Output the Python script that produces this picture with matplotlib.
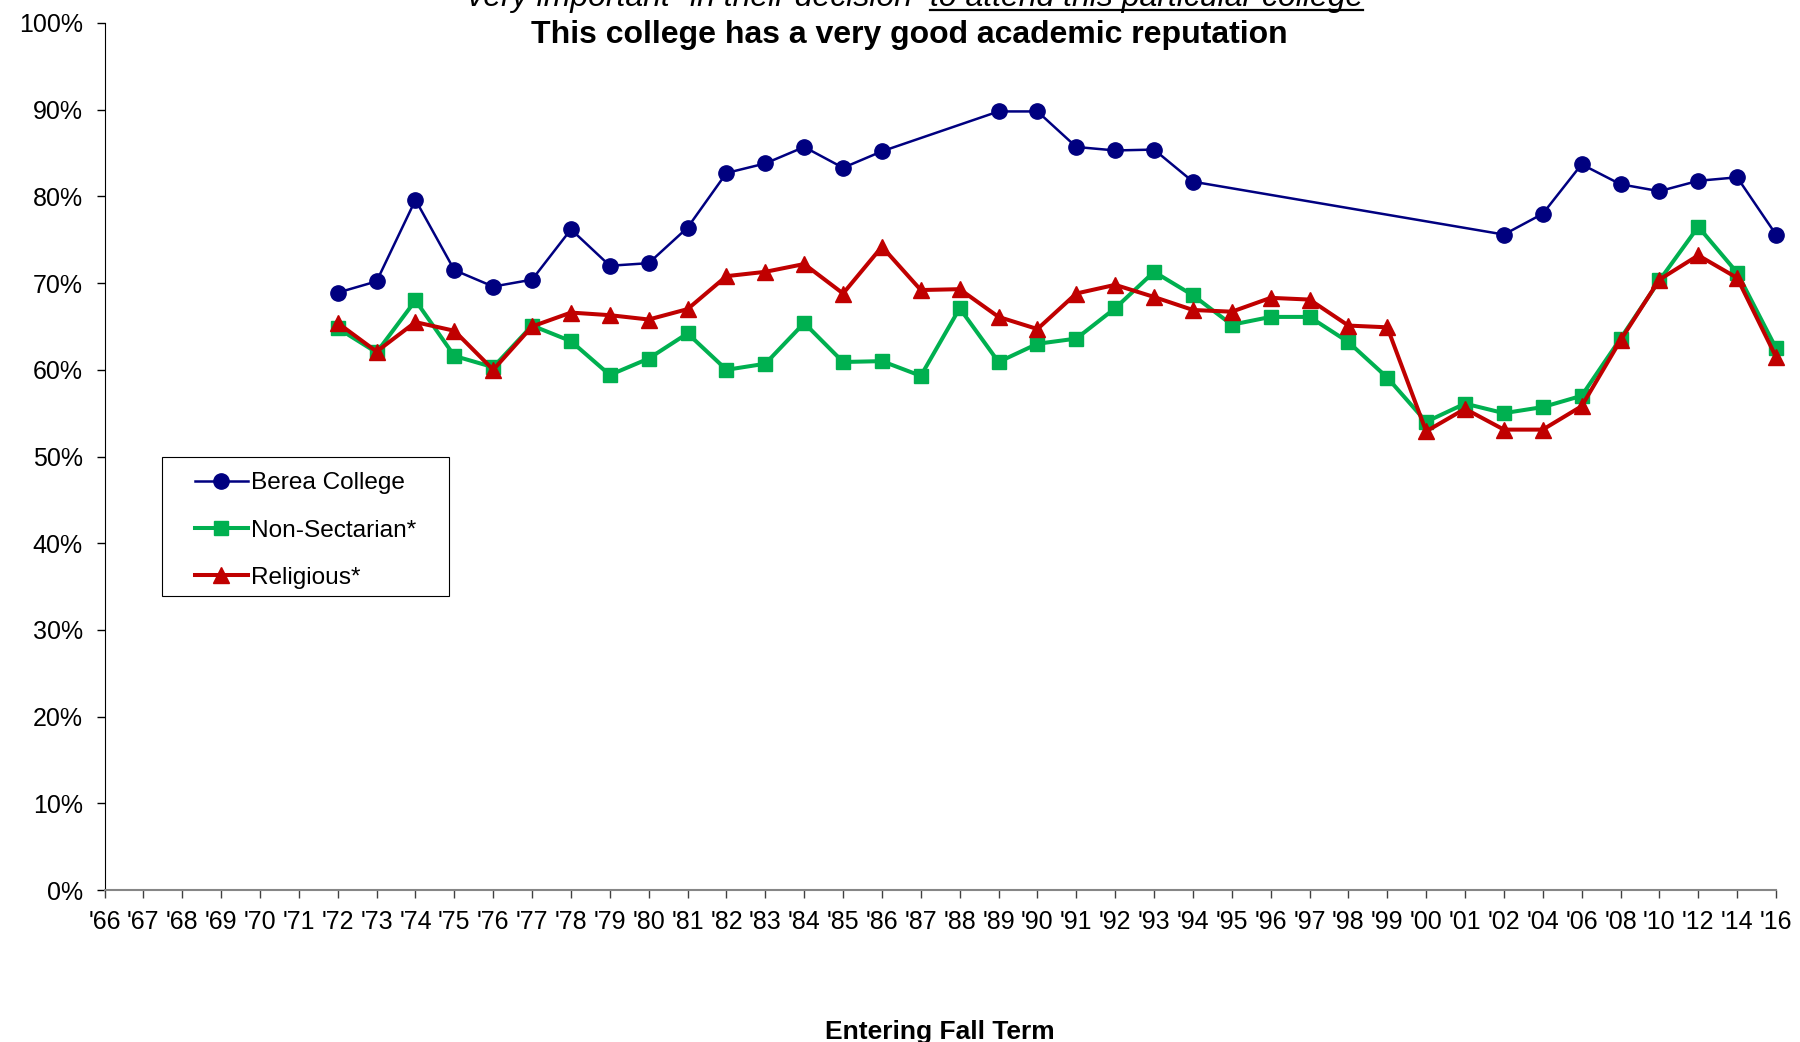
import matplotlib
matplotlib.use("Agg")
import matplotlib.pyplot as plt
from matplotlib.lines import Line2D
from matplotlib.patches import Rectangle

plt.rcParams["font.family"] = ["Liberation Sans", "DejaVu Sans"]

YEARS = ["'66", "'67", "'68", "'69", "'70", "'71", "'72", "'73", "'74", "'75",
         "'76", "'77", "'78", "'79", "'80", "'81", "'82", "'83", "'84", "'85",
         "'86", "'87", "'88", "'89", "'90", "'91", "'92", "'93", "'94", "'95",
         "'96", "'97", "'98", "'99", "'00", "'01", "'02", "'04", "'06", "'08",
         "'10", "'12", "'14", "'16"]

# values in percent, None = no survey data that year
BEREA = [None, None, None, None, None, None,
         68.9, 70.2, 79.6, 71.5, 69.6, 70.4, 76.2, 72.0, 72.3, 76.4,
         82.7, 83.8, 85.7, 83.3, 85.2, None, None, 89.8, 89.8, 85.7,
         85.3, 85.4, 81.7, None, None, None, None, None, None, None,
         75.6, 78.0, 83.7, 81.4, 80.6, 81.8, 82.2, 75.6]
NON_SECTARIAN = [None, None, None, None, None, None,
                 64.8, 62.0, 68.0, 61.6, 60.3, 65.1, 63.3, 59.4, 61.3, 64.2,
                 60.0, 60.7, 65.4, 60.9, 61.0, 59.3, 67.1, 60.9, 63.0, 63.6,
                 67.1, 71.3, 68.6, 65.2, 66.1, 66.1, 63.2, 59.1, 54.0, 56.1,
                 55.0, 55.7, 57.0, 63.6, 70.3, 76.5, 71.2, 62.5]
RELIGIOUS = [None, None, None, None, None, None,
             65.4, 62.1, 65.5, 64.5, 60.0, 65.0, 66.6, 66.3, 65.8, 67.0,
             70.8, 71.3, 72.2, 68.8, 74.2, 69.2, 69.3, 66.1, 64.7, 68.8,
             69.8, 68.4, 66.9, 66.7, 68.3, 68.1, 65.1, 64.9, 52.9, 55.5,
             53.1, 53.1, 55.8, 63.4, 70.4, 73.2, 70.6, 61.5]

SERIES = [
    ("Berea College", BEREA, "#000080", "o", 1.8, 11),
    ("Non-Sectarian*", NON_SECTARIAN, "#00B050", "s", 2.9, 10),
    ("Religious*", RELIGIOUS, "#C00000", "^", 2.9, 11),
]

W, H = 1800, 1042
fig = plt.figure(figsize=(W / 100, H / 100), dpi=100)
ax = fig.add_axes([104.5 / W, 1 - 890 / H, (1776 - 104.5) / W, (890 - 23) / H])

handles = []
for name, vals, color, marker, lw, ms in SERIES:
    xs = [i for i, v in enumerate(vals) if v is not None]
    ys = [v for v in vals if v is not None]
    line, = ax.plot(xs, ys, color=color, lw=lw, marker=marker, markersize=ms,
                    markeredgecolor=color, clip_on=False, label=name)
    handles.append(line)

ax.set_xlim(0, len(YEARS) - 1)
ax.set_ylim(0, 100)
ax.set_xticks(range(len(YEARS)))
ax.set_xticklabels(YEARS, fontsize=18)
ax.set_yticks(range(0, 101, 10))
ax.set_yticklabels([f"{v}%" for v in range(0, 101, 10)], fontsize=18)
ax.tick_params(axis="x", direction="out", length=6, width=1, color="#404040", pad=8.5)
ax.tick_params(axis="y", direction="out", length=6, width=1, color="#000000", pad=9.5)

for side in ("top", "right"):
    ax.spines[side].set_visible(False)
ax.spines["left"].set_color("#000000")
ax.spines["left"].set_linewidth(0.8)
ax.spines["bottom"].set_color("#868686")
ax.spines["bottom"].set_linewidth(1.5)

ax.set_xlabel("Entering Fall Term", fontsize=19, fontweight="bold")
ax.xaxis.set_label_coords(0.5, -(1032 - 890) / 867)
ax.xaxis.label.set_va("center")

# legend with an Excel-like frame drawn by hand
fig.patches.append(Rectangle((162 / W, 1 - 596 / H), (449 - 162) / W, (596 - 457) / H,
                             transform=fig.transFigure, fill=False,
                             edgecolor="#000000", lw=0.8))
fig.legend(handles=handles, loc="center left", bbox_to_anchor=(195 / W, 1 - 530.5 / H),
           frameon=False, fontsize=17.6, borderpad=0, handlelength=2.16,
           handletextpad=0.15, labelspacing=1.03, borderaxespad=0)

# titles (top line partly cut off, as in the source)
fig.text(0.505, 1 - 42.5 / H, "This college has a very good academic reputation",
         ha="center", va="baseline", fontsize=23, fontweight="bold")

part1 = "\"very important\" in their decision "
part2 = "to attend this particular college"
fs_top = 23
ybase = 1 - 6 / H
t1 = fig.text(0, ybase, part1, fontsize=fs_top, style="italic", va="baseline")
t2 = fig.text(0, ybase, part2, fontsize=fs_top, style="italic", va="baseline")
r = fig.canvas.get_renderer()
w1 = t1.get_window_extent(r).width
w2 = t2.get_window_extent(r).width
gap = fs_top * 1.389 * 0.278
x0 = 0.5055 * W - (w1 + gap + w2) / 2
t1.set_x(x0 / W)
t2.set_x((x0 + w1 + gap) / W)
uy = 1 - 10 / H
fig.add_artist(Line2D([(x0 + w1 + gap) / W, (x0 + w1 + gap + w2) / W], [uy, uy],
                      transform=fig.transFigure, color="black", lw=1.6))

fig.savefig("out.png", dpi=100)
